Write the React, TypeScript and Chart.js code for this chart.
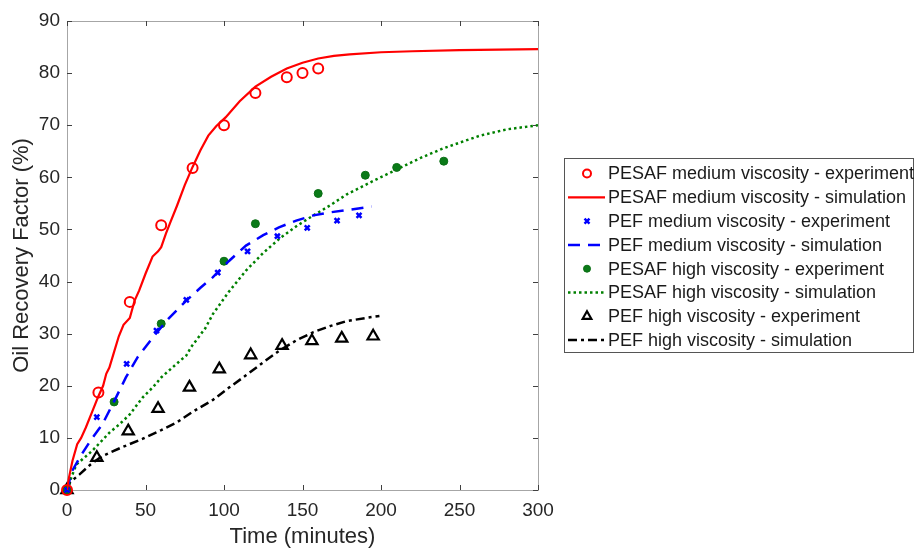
import React, { useEffect, useRef } from "react";
import { Chart, registerables } from "chart.js";
import { drawPoint } from "chart.js/helpers";

Chart.register(...registerables);

// ---------- data ----------
const xTicks = [0, 50, 100, 150, 200, 250, 300];
const yTicks = [0, 10, 20, 30, 40, 50, 60, 70, 80, 90];

const seriesNames = [
  "PESAF medium viscosity - experiment",
  "PESAF medium viscosity - simulation",
  "PEF medium viscosity - experiment",
  "PEF medium viscosity - simulation",
  "PESAF high viscosity - experiment",
  "PESAF high viscosity - simulation",
  "PEF high viscosity - experiment",
  "PEF high viscosity - simulation",
];

const pesafMedExpT = [0, 20, 40, 60, 80, 100, 120, 140, 150, 160];
const pesafMedExpV = [0, 18.7, 36.1, 50.8, 61.8, 70.0, 76.2, 79.2, 80.0, 80.9];

const pesafMedSimT = [0, 1, 3.5, 6.5, 9, 12, 16, 20, 23, 25, 27, 30, 33, 36, 40, 43, 46, 50, 54.5, 58, 60, 63, 66, 70, 75, 80, 85, 90, 95, 101, 110, 120, 130, 140, 150, 160, 170, 180, 200, 220, 250, 300];
const pesafMedSimV = [0, 2, 5.6, 8.8, 10, 12, 15, 18, 20, 22.3, 23.5, 26.5, 29.5, 31.7, 33, 36.3, 38.3, 41.5, 44.8, 45.8, 46.6, 49.2, 51.5, 54.5, 58.5, 62, 65.2, 68, 69.8, 71.5, 74.6, 77.4, 79.3, 80.9, 82, 82.8, 83.3, 83.6, 84, 84.2, 84.4, 84.6];

const pefMedExpT = [0, 19, 38, 57, 76, 96, 115, 134, 153, 172, 186];
const pefMedExpV = [0, 14, 24.2, 30.6, 36.5, 41.7, 45.8, 48.7, 50.3, 51.7, 52.7];

const pefMedSimT = [0, 3, 8, 15, 22.5, 30, 37.5, 45, 56.6, 65, 75.8, 85, 92.8, 103, 114, 125, 135, 146, 157, 168, 178, 194];
const pefMedSimV = [0, 3.5, 6.2, 9.5, 12.6, 17, 21.6, 25.5, 30, 33, 36.3, 38.8, 40.8, 43.9, 46.9, 48.9, 50.4, 51.7, 52.7, 53.3, 53.7, 54.4];

const pesafHighExpT = [0, 30, 60, 100, 120, 160, 190, 210, 240];
const pesafHighExpV = [0, 16.9, 31.9, 43.9, 51.1, 56.9, 60.4, 61.9, 63.1];

const pesafHighSimT = [0, 3, 6, 16, 27, 33, 40, 48, 55, 60, 66, 72, 76, 79, 88, 93, 103, 114, 125, 136, 147, 157, 168, 178, 197, 210, 225, 240, 263, 280, 300];
const pesafHighSimV = [0, 2.6, 4.9, 7.5, 11, 12.5, 14.5, 17.7, 19.8, 21.6, 23.2, 24.8, 25.8, 27.4, 31, 33.8, 38, 42.1, 45.5, 48.4, 50.8, 52.7, 54.7, 56.7, 59.6, 61.5, 63.7, 65.6, 68, 69.2, 70];

const pefHighExpT = [0, 19, 39, 58, 78, 97, 117, 137, 156, 175, 195];
const pefHighExpV = [0, 6.2, 11.3, 15.6, 19.7, 23.2, 25.9, 27.7, 28.6, 29.1, 29.5];

const pefHighSimT = [0, 2, 8, 15, 22.5, 35, 48, 60, 70, 80, 93, 103, 114, 125, 135, 146, 157, 168, 178, 190, 199];
const pefHighSimV = [0, 1.5, 3, 4.9, 6.5, 8.2, 9.8, 11.5, 13, 15, 17.3, 19.6, 22, 24.5, 26.7, 28.7, 30.3, 31.5, 32.4, 33, 33.4];

// ---------- styling ----------
const FONT = "'Liberation Sans', Arial, Helvetica, sans-serif";
const TEXT = "#262626";
const RED = "#ff0000";
const BLUE = "#0000ff";
const GREEN = "#008000";
const BLACK = "#000000";

const pts = (t: number[], v: number[]) => t.map((x, i) => ({ x, y: v[i] }));

const framePlugin = {
  id: "matlabFrame",
  beforeDatasetsDraw(chart: any) {
    const { ctx, chartArea: a, scales } = chart;
    ctx.save();
    ctx.strokeStyle = "#a6a6a6";
    ctx.lineWidth = 1;
    ctx.setLineDash([]);
    ctx.strokeRect(Math.round(a.left) + 0.5, Math.round(a.top) + 0.5, Math.round(a.right - a.left), Math.round(a.bottom - a.top));
    ctx.strokeStyle = "#404040";
    const tl = 5;
    ctx.beginPath();
    xTicks.forEach((v) => {
      const x = Math.round(scales.x.getPixelForValue(v)) + 0.5;
      ctx.moveTo(x, a.bottom);
      ctx.lineTo(x, a.bottom - tl);
      ctx.moveTo(x, a.top);
      ctx.lineTo(x, a.top + tl);
    });
    yTicks.forEach((v) => {
      const y = Math.round(scales.y.getPixelForValue(v)) + 0.5;
      ctx.moveTo(a.left, y);
      ctx.lineTo(a.left + tl, y);
      ctx.moveTo(a.right, y);
      ctx.lineTo(a.right - tl, y);
    });
    ctx.stroke();
    ctx.restore();
  },
};

const legendPlugin = {
  id: "boxLegend",
  afterDraw(chart: any) {
    const { ctx, chartArea: a } = chart;
    const x0 = a.right + 26;
    const y0 = 158;
    const w = 349;
    const h = 194;
    ctx.save();
    ctx.fillStyle = "#ffffff";
    ctx.fillRect(x0, y0, w, h);
    ctx.strokeStyle = "#555555";
    ctx.lineWidth = 1;
    ctx.setLineDash([]);
    ctx.strokeRect(x0 + 0.5, y0 + 0.5, w, h);
    chart.data.datasets.forEach((ds: any, i: number) => {
      const cy = y0 + 15.5 + i * 23.8;
      ctx.save();
      if (ds.showLine) {
        ctx.strokeStyle = ds.borderColor;
        ctx.lineWidth = ds.borderWidth;
        ctx.setLineDash(ds.borderDash || []);
        ctx.beginPath();
        ctx.moveTo(x0 + 4, cy);
        ctx.lineTo(x0 + 41, cy);
        ctx.stroke();
      } else {
        ctx.strokeStyle = ds.borderColor;
        ctx.fillStyle = ds.backgroundColor;
        ctx.lineWidth = ds.borderWidth;
        ctx.setLineDash([]);
        drawPoint(ctx, { pointStyle: ds.pointStyle, rotation: 0, radius: ds.legendRadius, borderWidth: ds.borderWidth }, x0 + 23, cy);
      }
      ctx.restore();
      ctx.fillStyle = "#1a1a1a";
      ctx.font = `18px ${FONT}`;
      ctx.textBaseline = "middle";
      ctx.textAlign = "left";
      ctx.fillText(ds.label, x0 + 44, cy + 1);
    });
    ctx.restore();
  },
};

function expSet(label: string, t: number[], v: number[], style: string, color: string, fill: string, r: number, bw: number, lr: number) {
  return {
    label,
    data: pts(t, v),
    showLine: false,
    clip: false,
    pointStyle: style,
    pointRadius: r,
    pointBorderWidth: bw,
    borderWidth: bw,
    borderColor: color,
    backgroundColor: fill,
    pointBackgroundColor: fill,
    pointBorderColor: color,
    legendRadius: lr,
  };
}

function simSet(label: string, t: number[], v: number[], color: string, dash: number[], bw: number) {
  return {
    label,
    data: pts(t, v),
    showLine: true,
    pointRadius: 0,
    borderColor: color,
    backgroundColor: color,
    borderWidth: bw,
    borderDash: dash,
    tension: 0,
    fill: false,
  };
}

export default function App() {
  const ref = useRef<HTMLCanvasElement | null>(null);
  useEffect(() => {
    if (!ref.current) return;
    const chart = new Chart(ref.current, {
      type: "scatter",
      data: {
        datasets: [
          expSet(seriesNames[0], pesafMedExpT, pesafMedExpV, "circle", RED, "rgba(255,255,255,0)", 5, 2, 4),
          simSet(seriesNames[1], pesafMedSimT, pesafMedSimV, RED, [], 2.2),
          expSet(seriesNames[2], pefMedExpT, pefMedExpV, "crossRot", BLUE, BLUE, 3.5, 2.5, 3.5),
          simSet(seriesNames[3], pefMedSimT, pefMedSimV, BLUE, [12, 8], 2.5),
          expSet(seriesNames[4], pesafHighExpT, pesafHighExpV, "circle", "#0a6e14", "#0a7a18", 4, 1, 3.5),
          simSet(seriesNames[5], pesafHighSimT, pesafHighSimV, GREEN, [2.5, 3], 2.5),
          expSet(seriesNames[6], pefHighExpT, pefHighExpV, "triangle", BLACK, "rgba(255,255,255,0)", 6.5, 2.2, 5),
          simSet(seriesNames[7], pefHighSimT, pefHighSimV, BLACK, [9, 4, 3, 4], 2.5),
        ] as any,
      },
      options: {
        responsive: false,
        animation: false,
        events: [],
        layout: { padding: { top: 21, right: 378, left: 0, bottom: 0 } },
        plugins: { legend: { display: false }, tooltip: { enabled: false } },
        scales: {
          x: {
            type: "linear",
            min: 0,
            max: 300,
            afterFit: (s: any) => { s.height = 62; },
            afterBuildTicks: (s: any) => { s.ticks = xTicks.map((value) => ({ value })); },
            grid: { display: false, drawTicks: false },
            border: { display: false },
            ticks: { color: TEXT, font: { family: FONT, size: 19 }, padding: 9, maxRotation: 0 },
            title: { display: true, text: "Time (minutes)", color: TEXT, font: { family: FONT, size: 22 }, padding: { top: 0, bottom: 2 } },
          },
          y: {
            type: "linear",
            min: 0,
            max: 90,
            afterFit: (s: any) => { s.width = 67; },
            afterBuildTicks: (s: any) => { s.ticks = yTicks.map((value) => ({ value })); },
            grid: { display: false, drawTicks: false },
            border: { display: false },
            ticks: { color: TEXT, font: { family: FONT, size: 19 }, padding: 7 },
            title: { display: true, text: "Oil Recovery Factor (%)", color: TEXT, font: { family: FONT, size: 22 }, padding: { top: 9, bottom: 0 } },
          },
        },
      } as any,
      plugins: [framePlugin, legendPlugin],
    });
    return () => chart.destroy();
  }, []);
  return (
    <div style={{ position: "absolute", left: 0, top: 0, width: 916, height: 552, background: "#fff" }}>
      <canvas ref={ref} width={916} height={552} style={{ display: "block", width: 916, height: 552 }} />
    </div>
  );
}
